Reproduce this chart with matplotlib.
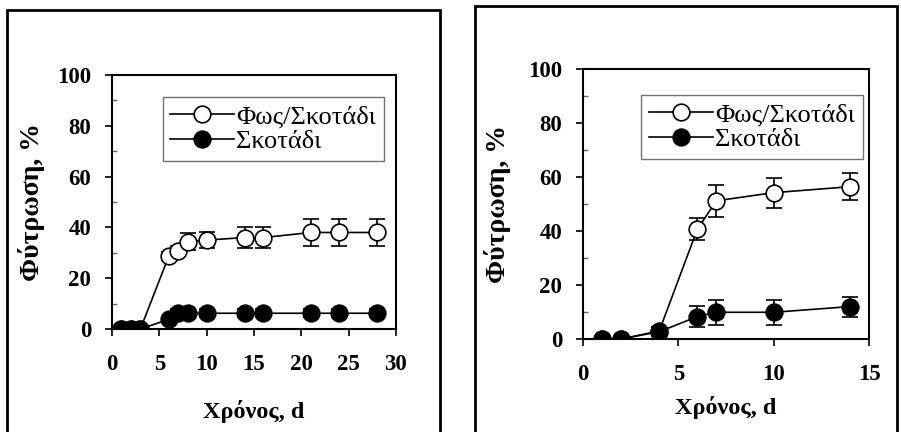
import numpy as np
import matplotlib.pyplot as plt
from matplotlib.patches import Rectangle
from matplotlib.ticker import MultipleLocator

# left panel: 30 days
days_a = [1, 2, 3, 6, 7, 8, 10, 14, 16, 21, 24, 28]
light_a = [0, 0, 0, 28.7, 30.8, 34.4, 35, 36, 36, 38, 38, 38]
light_a_err = [0, 0, 0, 1.5, 2, 3.4, 3.3, 4, 4, 5.4, 5.4, 5.4]
dark_a = [0, 0, 0, 3.8, 6.2, 6.2, 6.2, 6.2, 6.2, 6.2, 6.2, 6.2]
dark_a_err = [0, 0, 0, 1, 1.5, 1.5, 1.5, 1.5, 1.5, 1.5, 1.5, 1.5]

# right panel: 15 days
days_b = [1, 2, 4, 6, 7, 10, 14]
light_b = [0, 0, 3, 40.7, 51.2, 54.2, 56.4]
light_b_err = [0, 0, 1.5, 4.1, 5.9, 5.5, 4.9]
dark_b = [0, 0, 2.7, 8.3, 9.9, 9.9, 12]
dark_b_err = [0, 0, 1.5, 3.8, 4.7, 4.7, 3.7]

label_light = "Φως/Σκοτάδι"
label_dark = "Σκοτάδι"
xlabel = "Χρόνος, d"
ylabel = "Φύτρωση, %"

plt.rcParams["font.family"] = ["Liberation Serif", "DejaVu Serif"]
plt.rcParams["font.weight"] = "bold"


def draw_panel(ax, days, light, light_err, dark, dark_err, xmax, xstep, leg_anchor, xlabelpad, ylabelpad):
    # error bars first, then the lines with markers on top
    ax.errorbar(days, light, yerr=light_err, fmt="none", ecolor="k", capsize=5.5,
                elinewidth=1.2, capthick=1.2, zorder=2)
    ax.errorbar(days, dark, yerr=dark_err, fmt="none", ecolor="k", capsize=5.5,
                elinewidth=1.2, capthick=1.2, zorder=2)
    ax.plot(days, light, color="k", lw=1.2, marker="o", ms=12, mfc="white", mec="k", mew=1.2,
            label=label_light, zorder=3)
    ax.plot(days, dark, color="k", lw=1.2, marker="o", ms=12, mfc="k", mec="k", mew=1.2,
            label=label_dark, zorder=4)
    ax.set_xlim(0, xmax)
    ax.set_ylim(0, 100)
    ax.set_xticks(np.arange(0, xmax + 1, xstep))
    ax.set_yticks(np.arange(0, 101, 20))
    ax.yaxis.set_minor_locator(MultipleLocator(10))
    ax.tick_params(axis="both", which="major", direction="out", length=5, width=1.2, pad=10,
                   labelsize=16.5)
    ax.tick_params(axis="x", which="major", pad=13)
    ax.tick_params(axis="y", which="minor", direction="in", length=3.5, width=1.0, color="0.4")
    ax.tick_params(axis="x", which="minor", bottom=False)
    for sp in ax.spines.values():
        sp.set_linewidth(1.5)
    ax.set_xlabel(xlabel, fontweight="bold", fontsize=17.5, labelpad=xlabelpad)
    ax.set_ylabel(ylabel, fontweight="bold", fontsize=20, labelpad=ylabelpad)
    leg = ax.legend(loc="upper right", bbox_to_anchor=leg_anchor, borderaxespad=0,
                    prop={"weight": "normal", "size": 19}, frameon=True, fancybox=False,
                    handlelength=2.4, handletextpad=0.1, borderpad=0.3, labelspacing=0.05)
    leg.get_frame().set_edgecolor("0.3")
    leg.get_frame().set_linewidth(1.0)


fig = plt.figure(figsize=(9.01, 4.32), dpi=100)

ax1 = fig.add_axes([112 / 901, 103 / 432, 284 / 901, 254 / 432])
draw_panel(ax1, days_a, light_a, light_a_err, dark_a, dark_a_err, 30, 5, (0.958, 0.913), 18, 9)

ax2 = fig.add_axes([583 / 901, 93 / 432, 286 / 901, 270 / 432])
draw_panel(ax2, days_b, light_b, light_b_err, dark_b, dark_b_err, 15, 5, (0.979, 0.904), 8, 12)

# outer frames around each panel, open at the bottom
fig.patches.append(Rectangle((7 / 901, -0.05), 433 / 901, 1.05 - 10 / 432, transform=fig.transFigure,
                             fill=False, ec="k", lw=2, zorder=0))
fig.patches.append(Rectangle((475 / 901, -0.05), 422 / 901, 1.05 - 6 / 432, transform=fig.transFigure,
                             fill=False, ec="k", lw=2, zorder=0))

fig.savefig("out.png", dpi=100)
